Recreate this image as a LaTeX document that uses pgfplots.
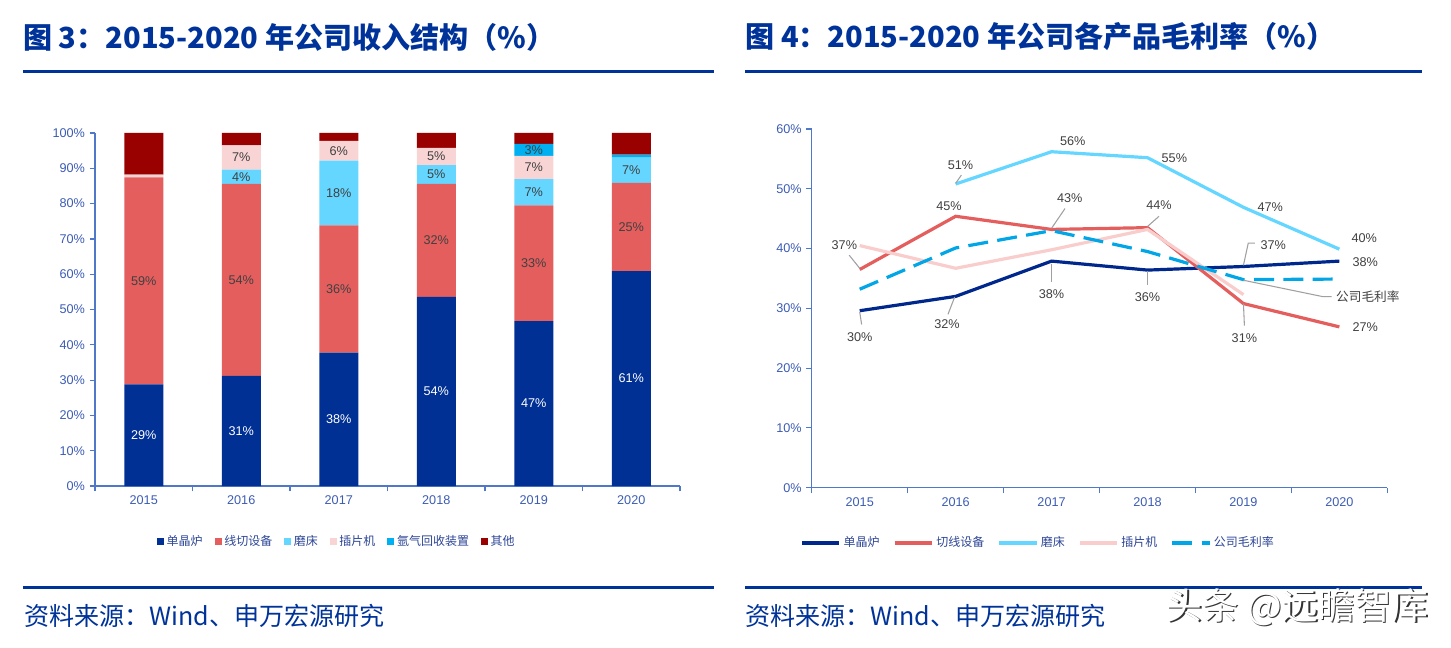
\documentclass[border=0pt]{standalone}
\usepackage{pgfplots}
\pgfplotsset{compat=1.18}
\usepackage{pgfplotstable}
\usepackage{fontspec}
\setmainfont{Liberation Sans}
\newfontfamily\cjk{Noto Sans CJK SC}
\definecolor{navy}{RGB}{0,51,153}
\definecolor{c1}{RGB}{0,48,148}
\definecolor{c2}{RGB}{228,94,94}
\definecolor{c3}{RGB}{100,214,255}
\definecolor{c4}{RGB}{249,212,212}
\definecolor{c5}{RGB}{0,176,240}
\definecolor{c6}{RGB}{153,0,0}
\definecolor{l1}{RGB}{0,40,140}
\definecolor{l4}{RGB}{250,205,205}
\definecolor{l5}{RGB}{0,166,230}
\definecolor{tickc}{RGB}{60,92,180}
\definecolor{axc}{RGB}{80,120,200}
\definecolor{lab}{RGB}{64,64,64}
\definecolor{lead}{RGB}{160,160,160}
\definecolor{legc}{RGB}{45,70,150}

\pgfplotstableread{
x a b c d e f
0 28.8 58.6 0 0.8 0 11.8
1 31.2 54.4 4.0 6.9 0 3.5
2 37.8 36.0 18.4 5.6 0 2.2
3 53.6 32.0 5.3 4.9 0 4.2
4 46.7 32.8 7.4 6.6 3.4 3.1
5 60.9 25.0 7.1 0 0.9 6.1
}\bardata

\pgfplotstableread{
x dj qx mc cp gs
0 29.6 36.5 nan 40.5 33.2
1 32.0 45.4 50.8 36.7 40.1
2 37.9 43.2 56.2 39.8 43.0
3 36.4 43.5 55.2 43.2 39.5
4 37.0 30.8 46.9 32.3 34.8
5 37.9 26.9 39.9 nan 34.9
}\linedata

\pgfplotsset{
  common/.style={
    scale only axis, anchor=south west,
    xmin=-0.5, xmax=5.5, ymin=0,
    axis lines=left, axis line style={axc, line width=0.9pt, -},
    xtick={0,...,5}, xticklabels={2015,2016,2017,2018,2019,2020},
    minor xtick={-0.5,0.5,...,5.5},
    tick align=outside, major tick length=4pt, minor tick length=4pt,
    major x tick style={draw=none}, minor x tick style={axc, line width=0.9pt},
    y tick style={axc, line width=0.9pt},
    ticklabel style={font=\fontsize{9.5}{11}\selectfont, text=tickc},
    /pgf/number format/assume math mode=true,
    yticklabel={\pgfmathprintnumber{\tick}\%},
    clip=false,
  },
  barlab/.style={draw=none, nodes near coords={\pgfmathprintnumber[fixed,precision=0,assume math mode=true]{\pgfplotspointmeta}\%},
    every node near coord/.style={anchor=center, text=#1, font=\fontsize{9.5}{11}\selectfont}},
}

\begin{document}
\begin{tikzpicture}[x=0.75pt,y=0.75pt]
\useasboundingbox (0,0) rectangle (1451,647);

% titles
\node[anchor=west, inner sep=0, text=navy, font=\cjk\bfseries\fontsize{21.8}{24}\selectfont] at (23,610) {图 3：2015-2020 年公司收入结构（\%）};
\node[anchor=west, inner sep=0, text=navy, font=\cjk\bfseries\fontsize{21.8}{24}\selectfont] at (745,610) {图 4：2015-2020 年公司各产品毛利率（\%）};
\draw[navy, line width=2.25pt] (23,575) -- (714,575);
\draw[navy, line width=2.25pt] (745,575) -- (1422,575);
\draw[navy, line width=2.25pt] (23,60) -- (714,60);
\draw[navy, line width=2.25pt] (745,60) -- (1422,60);
\node[anchor=west, inner sep=0, text=navy, font=\cjk\fontsize{18.8}{20}\selectfont] at (24,31) {资料来源：Wind、申万宏源研究};
\node[anchor=west, inner sep=0, text=navy, font=\cjk\fontsize{18.8}{20}\selectfont] at (745,31) {资料来源：Wind、申万宏源研究};

% bar chart
\begin{axis}[common, at={(71.25pt,120.75pt)}, width=438.75pt, height=264.75pt,
  ybar stacked, bar width=0.4, ymax=100, ytick={0,10,...,100},
  legend style={draw=none, at={(0.414,-0.156)}, anchor=center, legend columns=6,
    font=\cjk\fontsize{9}{11}\selectfont, text=legc,
    /tikz/every even column/.append style={column sep=7pt}},
  legend image code/.code={\fill[#1] (0pt,-2.6pt) rectangle (5.2pt,2.6pt);},
]
\addplot[fill=c1, draw=none] table[x=x,y=a]{\bardata};
\addplot[fill=c2, draw=none] table[x=x,y=b]{\bardata};
\addplot[fill=c3, draw=none] table[x=x,y=c]{\bardata};
\addplot[fill=c4, draw=none] table[x=x,y=d]{\bardata};
\addplot[fill=c5, draw=none] table[x=x,y=e]{\bardata};
\addplot[fill=c6, draw=none] table[x=x,y=f]{\bardata};
\legend{单晶炉,线切设备,磨床,插片机,氩气回收装置,其他}
\end{axis}

% bar labels overlay
\begin{axis}[scale only axis, anchor=south west, at={(71.25pt,120.75pt)}, width=438.75pt, height=264.75pt,
  xmin=-0.5, xmax=5.5, ymin=0, ymax=100, hide axis, clip=false,
  /pgf/number format/assume math mode=true]
\addplot[barlab=white, point meta=\thisrow{a}, restrict expr to domain={\thisrow{a}}{2.5:1000}]
  table[x=x, y expr=\thisrow{a}/2]{\bardata};
\addplot[barlab=lab, point meta=\thisrow{b}, restrict expr to domain={\thisrow{b}}{2.5:1000}]
  table[x=x, y expr=\thisrow{a}+\thisrow{b}/2]{\bardata};
\addplot[barlab=lab, point meta=\thisrow{c}, restrict expr to domain={\thisrow{c}}{2.5:1000}]
  table[x=x, y expr=\thisrow{a}+\thisrow{b}+\thisrow{c}/2]{\bardata};
\addplot[barlab=lab, point meta=\thisrow{d}, restrict expr to domain={\thisrow{d}}{2.5:1000}]
  table[x=x, y expr=\thisrow{a}+\thisrow{b}+\thisrow{c}+\thisrow{d}/2]{\bardata};
\addplot[barlab=lab, point meta=\thisrow{e}, restrict expr to domain={\thisrow{e}}{2.5:1000}]
  table[x=x, y expr=\thisrow{a}+\thisrow{b}+\thisrow{c}+\thisrow{d}+\thisrow{e}/2]{\bardata};
\end{axis}

% line chart
\begin{axis}[common, at={(608.8pt,119.5pt)}, width=431.7pt, height=269pt,
  ymax=60, ytick={0,10,...,60},
  legend style={draw=none, at={(0.394,-0.154)}, anchor=center, legend columns=5,
    font=\cjk\fontsize{9}{11}\selectfont, text=legc,
    /tikz/every even column/.append style={column sep=8pt}},
  legend image code/.code={\draw[#1, line width=2.4pt] (0pt,0pt) -- (28pt,0pt);},
]
\addplot[l1, line width=2.4pt] table[x=x,y=dj]{\linedata};
\addplot[c2, line width=2.4pt] table[x=x,y=qx]{\linedata};
\addplot[c3, line width=2.4pt] table[x=x,y=mc]{\linedata};
\addplot[l4, line width=2.4pt] table[x=x,y=cp]{\linedata};
\addplot[l5, line width=2.4pt, dash pattern=on 15pt off 7pt] table[x=x,y=gs]{\linedata};
\legend{单晶炉,切线设备,磨床,插片机,公司毛利率}

\begin{scope}[every node/.style={font=\fontsize{9.5}{11}\selectfont, text=lab, inner sep=1pt}]
\draw[lead, line width=0.8pt] (axis cs:-0.11,38.9) -- (axis cs:0,36.7);
\node at (axis cs:-0.16,40.6) {37\%};
\draw[lead, line width=0.8pt] (axis cs:0,29.4) -- (axis cs:0.02,27.3);
\node at (axis cs:0,25.1) {30\%};
\node at (axis cs:0.93,47.1) {45\%};
\draw[lead, line width=0.8pt] (axis cs:1.06,52.3) -- (axis cs:1.0,50.9);
\node at (axis cs:1.05,54.0) {51\%};
\draw[lead, line width=0.8pt] (axis cs:0.92,29.0) -- (axis cs:0.99,31.9);
\node at (axis cs:0.91,27.3) {32\%};
\node at (axis cs:2.22,57.9) {56\%};
\draw[lead, line width=0.8pt] (axis cs:2.14,46.7) -- (axis cs:2.0,43.4);
\node at (axis cs:2.19,48.4) {43\%};
\draw[lead, line width=0.8pt] (axis cs:2.0,37.5) -- (axis cs:2.0,34.4);
\node at (axis cs:2.0,32.35) {38\%};
\node at (axis cs:3.28,55.1) {55\%};
\draw[lead, line width=0.8pt] (axis cs:3.12,45.4) -- (axis cs:3.0,43.7);
\node at (axis cs:3.12,47.3) {44\%};
\draw[lead, line width=0.8pt] (axis cs:3.0,36.3) -- (axis cs:3.0,33.9);
\node at (axis cs:3.0,31.8) {36\%};
\node at (axis cs:4.28,47.0) {47\%};
\draw[lead, line width=0.8pt] (axis cs:4.12,40.9) -- (axis cs:4.05,40.9) -- (axis cs:4.0,37.2);
\node at (axis cs:4.31,40.6) {37\%};
\draw[lead, line width=0.8pt] (axis cs:4.0,30.8) -- (axis cs:4.01,27.1);
\node at (axis cs:4.01,25.0) {31\%};
\draw[lead, line width=0.8pt] (axis cs:4.0,34.7) -- (axis cs:4.83,31.95) -- (axis cs:4.92,31.95);
\node[anchor=west, font=\cjk\fontsize{9.5}{11}\selectfont] at (axis cs:4.95,31.95) {公司毛利率};
\node at (axis cs:5.26,41.7) {40\%};
\node at (axis cs:5.27,37.8) {38\%};
\node at (axis cs:5.27,26.8) {27\%};
\end{scope}
\end{axis}

% watermark
\node[font=\cjk\fontsize{27.5}{30}\selectfont, text=black!80] at (1298.5,38.5) {头条 @远瞻智库};
\node[font=\cjk\fontsize{27.5}{30}\selectfont, text=white] at (1297,40) {头条 @远瞻智库};
\end{tikzpicture}
\end{document}
